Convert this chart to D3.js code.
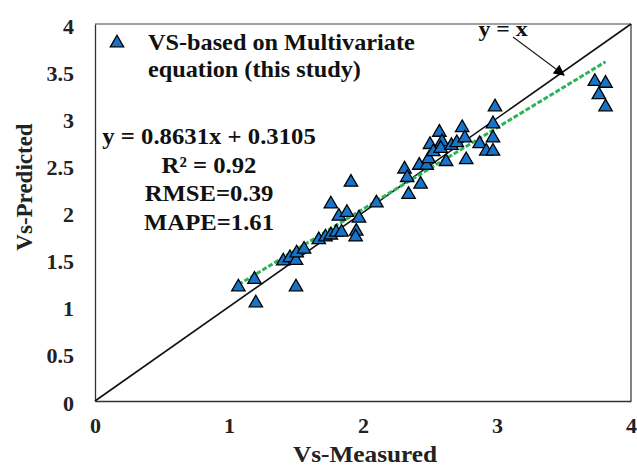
<!DOCTYPE html>
<html><head><meta charset="utf-8">
<script src="https://cdn.jsdelivr.net/npm/d3@7/dist/d3.min.js"></script>
<style>body{margin:0;background:#fff}svg{display:block}text{font-family:"Liberation Serif","Times New Roman",serif;font-weight:bold}</style>
</head><body><svg id="c" width="637" height="466"></svg>
<script>
const measured = [1.07,1.19,1.20,1.50,1.405,1.455,1.50,1.505,1.56,1.67,1.72,1.76,1.80,1.84,1.76,1.82,1.88,1.91,1.97,1.95,1.945,2.10,
  2.31,2.33,2.34,2.43,2.42,2.475,2.49,2.50,2.525,2.57,2.59,2.58,2.62,2.66,2.70,2.74,2.76,2.77,2.87,2.92,2.97,2.97,2.97,2.985,
  3.73,3.81,3.76,3.81];
const predicted = [1.21,1.29,1.04,1.21,1.485,1.52,1.49,1.57,1.61,1.71,1.74,1.76,1.79,1.79,2.09,1.96,2.00,2.32,1.94,1.80,1.74,2.10,
  2.46,2.37,2.19,2.30,2.50,2.50,2.57,2.72,2.645,2.85,2.75,2.68,2.54,2.71,2.74,2.90,2.79,2.56,2.73,2.65,2.65,2.79,2.94,3.12,
  3.39,3.37,3.25,3.12];
const xTicks = [0,1,2,3,4];
const yTicks = [0,0.5,1,1.5,2,2.5,3,3.5,4];
const slope = 0.8631, intercept = 0.3105;
const legendLines = ["VS-based on Multivariate","equation (this study)"];
const statLines = ["y = 0.8631x + 0.3105","R² = 0.92","RMSE=0.39","MAPE=1.61"];

const svg = d3.select("#c");
const L=95,R=631,T=24,B=401;
const x = d3.scaleLinear().domain([0,4]).range([L,R]);
const y = d3.scaleLinear().domain([0,4]).range([B,T]);

function stretched(sel, px, py, sx){ return sel.attr("transform",`translate(${px},${py}) scale(${sx},1)`); }

// frame
svg.append("line").attr("x1",L).attr("x2",R).attr("y1",T).attr("y2",T).attr("stroke","#808080").attr("stroke-width",1.3);
svg.append("line").attr("x1",R).attr("x2",R).attr("y1",T).attr("y2",B).attr("stroke","#404040").attr("stroke-width",1.3);

const tsx = 1.1;
const xa = svg.append("g").attr("transform",`translate(0,${B})`)
  .call(d3.axisBottom(x).tickValues(xTicks).tickSize(0).tickPadding(18).tickFormat(d3.format("")));
const ya = svg.append("g").attr("transform",`translate(${L},0)`)
  .call(d3.axisLeft(y).tickValues(yTicks).tickSize(0).tickPadding(21).tickFormat(d3.format("")));
[xa,ya].forEach(a=>{a.select(".domain").attr("stroke","#333").attr("stroke-width",1.3);
  a.selectAll("text").attr("font-family","Liberation Serif").attr("font-weight","bold").attr("font-size",20).attr("fill","#222")
   .attr("transform",`scale(${tsx},1)`);});
ya.selectAll("text").attr("x",-21/tsx).attr("dy","0.45em");

// y = x line
svg.append("line").attr("x1",x(0)).attr("y1",y(0)).attr("x2",x(4)).attr("y2",y(4)).attr("stroke","#111").attr("stroke-width",1.6);

// regression line
const xmin=d3.min(measured), xmax=d3.max(measured);
svg.append("line").attr("x1",x(xmin)).attr("y1",y(slope*xmin+intercept)).attr("x2",x(xmax)).attr("y2",y(slope*xmax+intercept))
  .attr("stroke","#2db35a").attr("stroke-width",3).attr("stroke-dasharray","5,2");

// points
const tri = d3.symbol().type(d3.symbolTriangle).size(78);
svg.append("g").selectAll("path").data(measured).join("path")
  .attr("d",tri).attr("transform",(d,i)=>`translate(${x(d)},${y(predicted[i])})`)
  .attr("fill","#1874c8").attr("stroke","#000").attr("stroke-width",1.3);

// legend
svg.append("path").attr("d",tri).attr("transform","translate(117,43)").attr("fill","#1874c8").attr("stroke","#000").attr("stroke-width",1.3);
svg.append("g").selectAll("text").data(legendLines).join("text")
  .each(function(d,i){ stretched(d3.select(this),148,50+i*27,1.055); })
  .attr("font-size",23).attr("fill","#111").text(d=>d);

// stats
svg.append("g").selectAll("text").data(statLines).join("text")
  .each(function(d,i){ stretched(d3.select(this),209,144+i*28.5,1.075); })
  .attr("text-anchor","middle").attr("font-size",23).attr("fill","#111").text(d=>d);

// y = x annotation
svg.append("defs").append("marker").attr("id","ah").attr("viewBox","0 0 10 10").attr("refX",9).attr("refY",5)
  .attr("markerUnits","userSpaceOnUse").attr("markerWidth",13).attr("markerHeight",11).attr("orient","auto")
  .append("path").attr("d","M0,0L10,5L0,10z").attr("fill","#000");
svg.append("line").attr("x1",513).attr("y1",37).attr("x2",564).attr("y2",75).attr("stroke","#222").attr("stroke-width",1.2).attr("marker-end","url(#ah)");
stretched(svg.append("text"),503,36,1.08).attr("text-anchor","middle").attr("font-size",22).attr("fill","#111").text("y = x");

// axis titles
stretched(svg.append("text"),365,462,1.1).attr("text-anchor","middle").attr("font-size",23).attr("fill","#222").text("Vs-Measured");
svg.append("text").attr("transform","translate(32,187) rotate(-90)").attr("text-anchor","middle").attr("font-size",23).attr("fill","#222").text("Vs-Predicted");
</script></body></html>
